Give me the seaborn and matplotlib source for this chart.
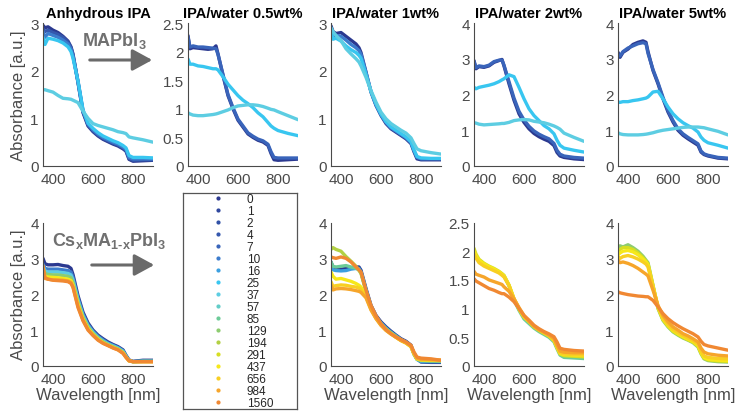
import matplotlib
matplotlib.use("Agg")
import matplotlib.pyplot as plt
import numpy as np
import pandas as pd
import seaborn as sns
from matplotlib.lines import Line2D
from matplotlib.ticker import FuncFormatter, MultipleLocator

sns.set_theme(style="white")
plt.rcParams["font.family"] = ["Liberation Sans", "DejaVu Sans"]
plt.rcParams["mathtext.fontset"] = "custom"
plt.rcParams["mathtext.rm"] = "Liberation Sans:bold"
plt.rcParams["mathtext.bf"] = "Liberation Sans:bold"
plt.rcParams["mathtext.it"] = "Liberation Sans:italic"

# ---- data -------------------------------------------------------------
wavelength = [350, 360, 375, 400, 425, 450, 475, 490, 500, 525, 550, 575,
              600, 625, 650, 675, 700, 725, 750, 765, 780, 800, 850, 900]

times = ["0", "1", "2", "4", "7", "10", "16", "25", "37", "57", "85",
         "129", "194", "291", "437", "656", "984", "1560"]
time_colors = ["#2b3990", "#2e479e", "#3050a6", "#3457ad", "#3964ba",
               "#3c7ccd", "#3b9fe0", "#38c6f0", "#5dcde2", "#62cdc8",
               "#6ccb98", "#8dcc70", "#b2d043", "#d6de22", "#f6e81a",
               "#f8cf22", "#f6a52a", "#f08832"]

# MAPbI3 films
ma_anhydrous = {
    "0":  [2.95, 2.9, 2.92, 2.85, 2.8, 2.72, 2.62, 2.5, 2.35, 1.75, 1.12, 0.84, 0.72, 0.63, 0.56, 0.51, 0.46, 0.42, 0.36, 0.31, 0.14, 0.1, 0.11, 0.12],
    "4":  [2.88, 2.82, 2.85, 2.8, 2.76, 2.7, 2.6, 2.48, 2.33, 1.76, 1.14, 0.86, 0.74, 0.65, 0.58, 0.53, 0.48, 0.44, 0.38, 0.33, 0.16, 0.12, 0.13, 0.13],
    "10": [2.82, 2.7, 2.78, 2.74, 2.7, 2.64, 2.56, 2.45, 2.3, 1.78, 1.16, 0.88, 0.76, 0.67, 0.6, 0.55, 0.5, 0.46, 0.4, 0.35, 0.18, 0.15, 0.15, 0.15],
    "25": [2.7, 2.55, 2.68, 2.66, 2.63, 2.58, 2.5, 2.4, 2.26, 1.78, 1.18, 0.9, 0.79, 0.7, 0.63, 0.58, 0.53, 0.49, 0.43, 0.38, 0.22, 0.18, 0.18, 0.17],
    "37": [1.6, 1.6, 1.58, 1.55, 1.48, 1.42, 1.41, 1.4, 1.38, 1.33, 1.15, 1.0, 0.89, 0.85, 0.82, 0.79, 0.76, 0.72, 0.7, 0.68, 0.61, 0.59, 0.55, 0.5],
}
ma_water05 = {
    "0":  [2.28, 2.05, 2.07, 2.06, 2.05, 2.04, 2.05, 2.1, 1.96, 1.58, 1.23, 1.0, 0.8, 0.68, 0.56, 0.5, 0.45, 0.42, 0.36, 0.22, 0.11, 0.1, 0.11, 0.12],
    "7":  [2.25, 2.08, 2.1, 2.08, 2.08, 2.07, 2.06, 2.05, 1.95, 1.6, 1.25, 1.02, 0.82, 0.7, 0.58, 0.52, 0.47, 0.44, 0.38, 0.25, 0.15, 0.14, 0.14, 0.14],
    "25": [1.87, 1.78, 1.78, 1.75, 1.74, 1.72, 1.7, 1.7, 1.68, 1.56, 1.43, 1.33, 1.23, 1.15, 1.09, 1.02, 0.93, 0.86, 0.76, 0.7, 0.66, 0.62, 0.57, 0.53],
    "37": [0.93, 0.91, 0.89, 0.88, 0.88, 0.89, 0.9, 0.91, 0.92, 0.95, 0.98, 1.02, 1.05, 1.06, 1.07, 1.07, 1.06, 1.04, 1.01, 0.99, 0.98, 0.95, 0.88, 0.81],
}
ma_water1 = {
    "0":  [2.94, 2.82, 2.78, 2.8, 2.72, 2.64, 2.56, 2.48, 2.38, 1.97, 1.55, 1.27, 1.06, 0.89, 0.78, 0.71, 0.64, 0.57, 0.47, 0.3, 0.15, 0.13, 0.13, 0.13],
    "10": [2.9, 2.72, 2.74, 2.72, 2.64, 2.55, 2.48, 2.42, 2.34, 1.96, 1.56, 1.28, 1.07, 0.91, 0.8, 0.73, 0.66, 0.59, 0.49, 0.32, 0.18, 0.15, 0.15, 0.15],
    "25": [2.85, 2.66, 2.68, 2.62, 2.52, 2.44, 2.38, 2.32, 2.26, 1.92, 1.56, 1.3, 1.09, 0.93, 0.82, 0.75, 0.68, 0.61, 0.51, 0.34, 0.2, 0.17, 0.16, 0.16],
    "37": [2.9, 2.82, 2.74, 2.63, 2.46, 2.35, 2.25, 2.18, 2.1, 1.86, 1.58, 1.34, 1.13, 0.99, 0.89, 0.82, 0.75, 0.69, 0.59, 0.47, 0.36, 0.32, 0.28, 0.25],
}
ma_water2 = {
    "0":  [2.95, 2.72, 2.78, 2.76, 2.8, 2.9, 2.95, 2.98, 2.8, 2.3, 1.84, 1.46, 1.22, 1.04, 0.91, 0.82, 0.75, 0.69, 0.57, 0.38, 0.28, 0.24, 0.2, 0.18],
    "7":  [2.92, 2.75, 2.8, 2.78, 2.82, 2.92, 2.96, 2.96, 2.82, 2.36, 1.9, 1.53, 1.29, 1.11, 0.98, 0.89, 0.82, 0.76, 0.63, 0.44, 0.33, 0.28, 0.24, 0.22],
    "25": [2.2, 2.16, 2.2, 2.23, 2.26, 2.3, 2.36, 2.41, 2.44, 2.55, 2.5, 2.2, 1.88, 1.6, 1.41, 1.27, 1.13, 1.04, 0.9, 0.72, 0.58, 0.5, 0.44, 0.39],
    "37": [1.21, 1.2, 1.17, 1.15, 1.16, 1.17, 1.18, 1.19, 1.19, 1.22, 1.27, 1.29, 1.3, 1.29, 1.25, 1.23, 1.21, 1.17, 1.12, 1.08, 1.03, 0.92, 0.8, 0.69],
}
ma_water5 = {
    "0":  [3.18, 3.04, 3.18, 3.27, 3.4, 3.46, 3.5, 3.46, 3.2, 2.67, 2.3, 1.88, 1.51, 1.23, 1.0, 0.86, 0.76, 0.67, 0.58, 0.39, 0.32, 0.28, 0.22, 0.2],
    "7":  [3.12, 3.08, 3.2, 3.3, 3.36, 3.42, 3.45, 3.42, 3.15, 2.7, 2.33, 1.92, 1.55, 1.27, 1.04, 0.9, 0.8, 0.71, 0.62, 0.42, 0.34, 0.3, 0.24, 0.22],
    "25": [1.79, 1.78, 1.8, 1.8, 1.83, 1.85, 1.88, 1.9, 1.93, 2.07, 2.09, 1.88, 1.65, 1.46, 1.32, 1.21, 1.13, 1.06, 0.95, 0.81, 0.72, 0.65, 0.58, 0.5],
    "37": [0.93, 0.9, 0.88, 0.87, 0.87, 0.87, 0.88, 0.89, 0.9, 0.93, 0.97, 1.0, 1.02, 1.04, 1.06, 1.08, 1.09, 1.09, 1.09, 1.08, 1.07, 1.04, 0.97, 0.87],
}

# CsxMA1-xPbI3 films
cs_anhydrous = {
    "0":    [3.0, 2.85, 2.82, 2.82, 2.83, 2.8, 2.78, 2.72, 2.55, 1.96, 1.5, 1.2, 1.0, 0.86, 0.76, 0.67, 0.6, 0.54, 0.45, 0.3, 0.17, 0.13, 0.16, 0.16],
    "10":   [2.85, 2.72, 2.7, 2.7, 2.7, 2.68, 2.66, 2.62, 2.47, 1.9, 1.45, 1.16, 0.97, 0.83, 0.73, 0.64, 0.58, 0.52, 0.43, 0.28, 0.16, 0.12, 0.14, 0.14],
    "37":   [2.8, 2.65, 2.62, 2.62, 2.62, 2.6, 2.58, 2.54, 2.4, 1.84, 1.4, 1.12, 0.94, 0.8, 0.7, 0.62, 0.56, 0.5, 0.41, 0.27, 0.15, 0.12, 0.13, 0.13],
    "129":  [2.75, 2.58, 2.55, 2.54, 2.54, 2.52, 2.5, 2.46, 2.33, 1.78, 1.36, 1.09, 0.91, 0.78, 0.68, 0.6, 0.54, 0.48, 0.39, 0.26, 0.15, 0.12, 0.13, 0.13],
    "437":  [2.7, 2.5, 2.48, 2.47, 2.46, 2.44, 2.42, 2.38, 2.26, 1.72, 1.31, 1.05, 0.88, 0.75, 0.65, 0.58, 0.52, 0.46, 0.37, 0.25, 0.14, 0.12, 0.12, 0.12],
    "984":  [2.7, 2.44, 2.42, 2.4, 2.4, 2.39, 2.37, 2.33, 2.21, 1.66, 1.28, 1.02, 0.86, 0.73, 0.64, 0.57, 0.51, 0.45, 0.36, 0.24, 0.14, 0.12, 0.12, 0.12],
    "1560": [2.8, 2.46, 2.42, 2.39, 2.38, 2.37, 2.35, 2.3, 2.19, 1.63, 1.26, 1.0, 0.85, 0.72, 0.63, 0.57, 0.5, 0.45, 0.35, 0.24, 0.15, 0.12, 0.12, 0.12],
}
cs_water1 = {
    "0":    [2.9, 2.75, 2.7, 2.7, 2.72, 2.74, 2.76, 2.76, 2.67, 2.16, 1.69, 1.41, 1.23, 1.09, 0.97, 0.86, 0.76, 0.69, 0.58, 0.34, 0.2, 0.11, 0.1, 0.1],
    "16":   [2.75, 2.68, 2.66, 2.65, 2.66, 2.7, 2.72, 2.72, 2.62, 2.12, 1.66, 1.38, 1.2, 1.06, 0.94, 0.84, 0.74, 0.67, 0.56, 0.33, 0.18, 0.12, 0.12, 0.12],
    "85":   [2.9, 2.78, 2.76, 2.78, 2.8, 2.76, 2.72, 2.68, 2.6, 2.1, 1.64, 1.37, 1.18, 1.04, 0.93, 0.83, 0.73, 0.66, 0.55, 0.33, 0.19, 0.15, 0.14, 0.14],
    "194":  [3.25, 3.3, 3.25, 3.2, 3.05, 2.92, 2.78, 2.66, 2.58, 2.08, 1.62, 1.35, 1.16, 1.02, 0.91, 0.81, 0.72, 0.65, 0.54, 0.33, 0.19, 0.16, 0.15, 0.15],
    "437":  [2.62, 2.5, 2.42, 2.44, 2.4, 2.36, 2.3, 2.25, 2.2, 1.97, 1.6, 1.34, 1.15, 1.01, 0.9, 0.8, 0.71, 0.64, 0.54, 0.34, 0.2, 0.17, 0.16, 0.15],
    "656":  [2.35, 2.22, 2.24, 2.26, 2.25, 2.22, 2.2, 2.17, 2.12, 1.93, 1.58, 1.33, 1.14, 1.0, 0.89, 0.8, 0.71, 0.64, 0.54, 0.35, 0.21, 0.18, 0.17, 0.16],
    "984":  [2.25, 2.12, 2.15, 2.16, 2.15, 2.13, 2.1, 2.08, 2.05, 1.9, 1.56, 1.32, 1.13, 0.99, 0.89, 0.8, 0.71, 0.65, 0.55, 0.36, 0.22, 0.19, 0.18, 0.16],
    "1560": [3.04, 3.02, 3.0, 3.04, 3.0, 2.9, 2.76, 2.68, 2.62, 2.11, 1.69, 1.4, 1.18, 1.02, 0.9, 0.81, 0.74, 0.67, 0.58, 0.39, 0.25, 0.22, 0.2, 0.16],
}
cs_water2 = {
    "85":   [2.0, 1.9, 1.83, 1.77, 1.72, 1.68, 1.63, 1.6, 1.57, 1.4, 1.15, 0.97, 0.82, 0.74, 0.66, 0.6, 0.55, 0.5, 0.42, 0.3, 0.19, 0.15, 0.14, 0.13],
    "291":  [2.05, 1.95, 1.86, 1.79, 1.74, 1.7, 1.65, 1.61, 1.58, 1.41, 1.17, 0.99, 0.85, 0.77, 0.68, 0.62, 0.57, 0.52, 0.44, 0.32, 0.21, 0.18, 0.17, 0.16],
    "437":  [2.0, 1.92, 1.84, 1.78, 1.73, 1.69, 1.64, 1.6, 1.57, 1.41, 1.17, 1.0, 0.86, 0.78, 0.69, 0.63, 0.58, 0.53, 0.45, 0.33, 0.22, 0.2, 0.19, 0.18],
    "656":  [1.95, 1.88, 1.8, 1.74, 1.7, 1.66, 1.62, 1.58, 1.55, 1.4, 1.17, 1.0, 0.86, 0.78, 0.7, 0.63, 0.58, 0.53, 0.45, 0.34, 0.23, 0.21, 0.2, 0.19],
    "984":  [1.65, 1.6, 1.58, 1.55, 1.5, 1.47, 1.44, 1.42, 1.38, 1.3, 1.17, 1.02, 0.88, 0.78, 0.69, 0.63, 0.59, 0.54, 0.48, 0.36, 0.26, 0.24, 0.23, 0.23],
    "1560": [1.52, 1.48, 1.45, 1.4, 1.35, 1.32, 1.28, 1.26, 1.26, 1.2, 1.12, 1.0, 0.88, 0.8, 0.71, 0.65, 0.6, 0.56, 0.51, 0.42, 0.31, 0.29, 0.27, 0.26],
}
cs_water5 = {
    "129":  [3.3, 3.35, 3.32, 3.38, 3.3, 3.2, 3.06, 2.95, 2.88, 2.25, 1.6, 1.27, 1.09, 0.95, 0.86, 0.78, 0.72, 0.65, 0.53, 0.34, 0.2, 0.15, 0.12, 0.11],
    "291":  [3.2, 3.25, 3.3, 3.3, 3.25, 3.15, 3.02, 2.92, 2.85, 2.24, 1.62, 1.29, 1.11, 0.97, 0.88, 0.8, 0.73, 0.67, 0.55, 0.36, 0.22, 0.17, 0.14, 0.13],
    "437":  [3.1, 3.15, 3.2, 3.22, 3.18, 3.1, 2.98, 2.9, 2.82, 2.22, 1.64, 1.31, 1.13, 0.99, 0.9, 0.82, 0.75, 0.68, 0.57, 0.38, 0.24, 0.19, 0.16, 0.15],
    "656":  [3.05, 3.0, 3.05, 3.08, 3.04, 2.98, 2.9, 2.84, 2.76, 2.2, 1.66, 1.34, 1.16, 1.02, 0.93, 0.85, 0.78, 0.71, 0.61, 0.42, 0.28, 0.24, 0.21, 0.2],
    "984":  [2.95, 2.88, 2.9, 2.86, 2.8, 2.72, 2.62, 2.56, 2.51, 2.11, 1.69, 1.41, 1.23, 1.09, 1.0, 0.9, 0.84, 0.76, 0.67, 0.5, 0.39, 0.34, 0.3, 0.28],
    "1560": [2.07, 2.04, 2.02, 1.99, 1.97, 1.95, 1.94, 1.93, 1.93, 1.83, 1.65, 1.46, 1.32, 1.21, 1.12, 1.04, 0.97, 0.9, 0.81, 0.69, 0.6, 0.56, 0.5, 0.44],
}

titles = ["Anhydrous IPA", "IPA/water 0.5wt%", "IPA/water 1wt%",
          "IPA/water 2wt%", "IPA/water 5wt%"]

# ---- figure layout (pixel boxes -> figure fractions) -------------------
W_PX, H_PX = 739, 414
fig = plt.figure(figsize=(W_PX / 100, H_PX / 100), dpi=100)


def px_axes(left, top, right, bottom):
    return fig.add_axes([left / W_PX, 1 - bottom / H_PX,
                         (right - left) / W_PX, (bottom - top) / H_PX])


col_left = [43, 188, 331, 474, 618]
col_width = 110
row_box = [(24, 167), (223.5, 367)]

palette = dict(zip(times, time_colors))
axis_gray = "#4a4a4a"
fmt = FuncFormatter(lambda v, _: f"{v:g}")

panels = [
    (0, 0, ma_anhydrous, 3, 1.0),
    (0, 1, ma_water05, 2.5, 0.5),
    (0, 2, ma_water1, 3, 1.0),
    (0, 3, ma_water2, 4, 1.0),
    (0, 4, ma_water5, 4, 1.0),
    (1, 0, cs_anhydrous, 4, 1.0),
    (1, 2, cs_water1, 4, 1.0),
    (1, 3, cs_water2, 2.5, 0.5),
    (1, 4, cs_water5, 4, 1.0),
]

for row, col, curves, ymax, ystep in panels:
    top, bottom = row_box[row]
    ax = px_axes(col_left[col], top, col_left[col] + col_width, bottom)
    df = pd.DataFrame(
        [(w, a, t) for t, vals in curves.items() for w, a in zip(wavelength, vals)],
        columns=["wl", "A", "t"],
    )
    sns.lineplot(data=df, x="wl", y="A", hue="t", hue_order=list(curves),
                 palette=palette, ax=ax, legend=False, linewidth=2.4,
                 estimator=None, sort=False)
    ax.set_xlim(350, 900)
    ax.set_ylim(0, ymax)
    ax.set_xticks([400, 600, 800])
    ax.yaxis.set_major_locator(MultipleLocator(ystep))
    ax.yaxis.set_major_formatter(fmt)
    for s in ["top", "right"]:
        ax.spines[s].set_visible(False)
    for s in ["left", "bottom"]:
        ax.spines[s].set_color(axis_gray)
        ax.spines[s].set_linewidth(0.8)
    ax.tick_params(direction="in", length=3, width=0.8, color=axis_gray,
                   labelcolor=axis_gray, labelsize=11, pad=3)
    ax.tick_params(axis="x", pad=4)
    ax.set_xlabel("")
    ax.set_ylabel("")
    if row == 0:
        ax.set_title(titles[col], fontsize=10.5, fontweight="bold",
                     color="black", pad=4)
    else:
        ax.set_xlabel("Wavelength [nm]", fontsize=12, color=axis_gray,
                      labelpad=1)
    if col == 0:
        ax.set_ylabel("Absorbance [a.u.]", fontsize=12, color=axis_gray,
                      labelpad=3)

# legend box of the immersion times
ax_leg = px_axes(183, 194, 297, 410)
ax_leg.set_xticks([])
ax_leg.set_yticks([])
for s in ax_leg.spines.values():
    s.set_visible(True)
    s.set_color("#555555")
    s.set_linewidth(0.9)
handles = [Line2D([], [], ls="none", marker=".", markersize=4, color=c)
           for c in time_colors]
ax_leg.legend(handles, times, loc="center", frameon=False, fontsize=8.5,
              labelspacing=0.0, handlelength=2.0, handletextpad=1.4,
              borderaxespad=0, borderpad=0)

# compound labels with arrows
label_gray = "#707070"
fig.text(82 / W_PX, 1 - 46 / H_PX, r"$\mathbf{MAPbI_3}$", color=label_gray,
         fontsize=13, ha="left", va="baseline")
fig.text(52 / W_PX, 1 - 246 / H_PX, r"$\mathbf{Cs_xMA_{1\text{-}x}PbI_3}$",
         color=label_gray, fontsize=13, ha="left", va="baseline")
for y_px, x0, x1 in [(61, 87, 155), (266, 89, 157)]:
    fig.add_artist(matplotlib.patches.FancyArrowPatch(
        (x0 / W_PX, 1 - y_px / H_PX), (x1 / W_PX, 1 - y_px / H_PX),
        transform=fig.transFigure, arrowstyle="-|>,head_length=0.55,head_width=0.3",
        mutation_scale=22, color="#6a6a6a", lw=2.2))

fig.savefig("out.png", dpi=100)
